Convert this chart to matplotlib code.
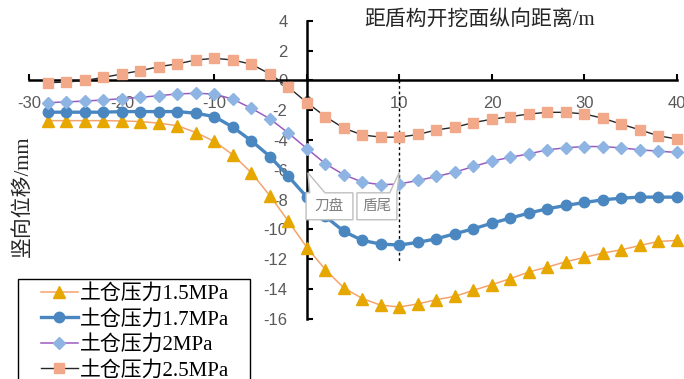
import matplotlib
matplotlib.use('Agg')
import matplotlib.pyplot as plt
from matplotlib.patches import Polygon, Rectangle

plt.rcParams['axes.unicode_minus'] = False

# distance from the shield face (m)
distance = [-28, -26, -24, -22, -20, -18, -16, -14, -12, -10, -8, -6, -4, -2, 0,
            2, 4, 6, 8, 10, 12, 14, 16, 18, 20, 22, 24, 26, 28, 30, 32, 34, 36, 38, 40]

# vertical displacement (mm) for each chamber pressure
disp_15 = [-2.70, -2.70, -2.70, -2.70, -2.72, -2.76, -2.87, -3.04, -3.50, -4.10, -5.00, -6.21,
           -7.75, -9.47, -11.23, -12.72, -13.95, -14.66, -15.11, -15.22, -15.02, -14.73, -14.51,
           -14.10, -13.72, -13.32, -12.87, -12.54, -12.18, -11.89, -11.60, -11.38, -11.09, -10.82, -10.75]
disp_17 = [-2.13, -2.13, -2.13, -2.13, -2.09, -2.09, -2.09, -2.09, -2.20, -2.43, -3.14, -4.06,
           -5.11, -6.45, -7.85, -9.14, -10.15, -10.75, -11.00, -11.06, -10.88, -10.64, -10.30,
           -9.97, -9.59, -9.25, -8.91, -8.62, -8.40, -8.20, -8.02, -7.91, -7.84, -7.84, -7.84]
disp_20 = [-1.49, -1.44, -1.38, -1.31, -1.22, -1.13, -1.02, -0.90, -0.86, -0.91, -1.26, -1.87,
           -2.58, -3.54, -4.58, -5.60, -6.34, -6.83, -7.01, -6.95, -6.72, -6.45, -6.16,
           -5.78, -5.42, -5.16, -4.93, -4.66, -4.52, -4.44, -4.44, -4.53, -4.66, -4.75, -4.84]
disp_25 = [-0.15, -0.10, 0.00, 0.21, 0.44, 0.66, 0.93, 1.12, 1.38, 1.49, 1.38, 1.09,
           0.44, -0.45, -1.49, -2.43, -3.21, -3.66, -3.81, -3.81, -3.63, -3.32, -3.14,
           -2.83, -2.60, -2.43, -2.25, -2.14, -2.14, -2.25, -2.54, -2.94, -3.32, -3.72, -3.93]

labels = ['土仓压力1.5MPa', '土仓压力1.7MPa', '土仓压力2MPa', '土仓压力2.5MPa']
x_ticks = [-30, -20, -10, 0, 10, 20, 30, 40]
y_ticks = [4, 2, 0, -2, -4, -6, -8, -10, -12, -14, -16]
cutter_x, tail_x = 0, 10

MIXED = ['Liberation Serif', 'Noto Sans CJK SC']
CJK = ['Noto Sans CJK SC', 'DejaVu Sans']

fig = plt.figure(figsize=(6.84, 3.79), dpi=100)
ax = fig.add_axes([0.0431, 0.1596, 0.9466, 0.785])

styles = [
    dict(color='#F5A36C', lw=1.1, marker='^', ms=8, mfc='#E6A800', mec='#E6A800'),
    dict(color='#4A87C1', lw=2.4, marker='o', ms=7.5, mfc='#4A87C1', mec='#4A87C1'),
    dict(color='#9B5CC0', lw=1.1, marker='D', ms=6, mfc='#8DB4E2', mec='#8DB4E2'),
    dict(color='#262626', lw=1.0, marker='s', ms=7, mfc='#F2A98A', mec='#F2A98A'),
]
handles = []
for ys, lab, st in zip([disp_15, disp_17, disp_20, disp_25], labels, styles):
    h, = ax.plot(distance, ys, label=lab, clip_on=False, zorder=3, **st)
    handles.append(h)

# shield tail marker line
ax.plot([tail_x, tail_x], [0, -12.2], color='black', lw=1, ls=(0, (2, 2)), zorder=2)

ax.set_xlim(-30, 40)
ax.set_ylim(-16, 4)
ax.spines['left'].set_position(('data', 0))
ax.spines['bottom'].set_position(('data', 0))
ax.spines['right'].set_visible(False)
ax.spines['top'].set_visible(False)
for s in ['left', 'bottom']:
    ax.spines[s].set_linewidth(1.8)
    ax.spines[s].set_color('black')
ax.set_xticks(x_ticks)
ax.set_yticks(y_ticks)
ax.tick_params(axis='both', direction='in', length=4, width=1.5, color='black',
               labelcolor='#595959', labelsize=12)
ax.tick_params(axis='x', pad=11)
ax.tick_params(axis='y', pad=14)
for t in ax.get_xticklabels() + ax.get_yticklabels():
    t.set_family('Liberation Sans')

# callouts
def callout(text, box, wedge, apex):
    x0, x1, yt, yb = box
    w0, w1 = wedge
    pts = [(x0, yt), (w0, yt), apex, (w1, yt), (x1, yt), (x1, yb), (x0, yb)]
    ax.add_patch(Polygon(pts, closed=True, fc='white', ec='#BFBFBF', lw=1, zorder=4))
    ax.text((x0 + x1) / 2, (yt + yb) / 2, text, ha='center', va='center',
            fontsize=10.5, color='#7F7F7F', family=CJK, zorder=5)

callout('刀盘', (-0.1, 4.97, -7.55, -9.36), (0.3, 1.95), (cutter_x + 0.1, -6.2))
callout('盾尾', (5.4, 9.72, -7.55, -9.36), (8.95, 9.72), (tail_x, -6.15))

fig.text(480 / 684, 1 - 20 / 379, '距盾构开挖面纵向距离/m', ha='center', va='center',
         fontsize=15, color='#262626', family=MIXED)
fig.text(23 / 684, 1 - 196 / 379, '竖向位移/mm', ha='center', va='center', rotation=90,
         fontsize=15, color='#262626', family=MIXED)

# legend frame (runs off the bottom edge like the original)
fig.patches.append(Rectangle((18 / 684, -0.1), (250 - 18) / 684, 0.1 + (379 - 279) / 379,
                             transform=fig.transFigure, fill=False, ec='black', lw=1))
fig.legend(handles=handles, loc='upper left', bbox_to_anchor=(37 / 684, 1 - 280 / 379),
           frameon=False, prop={'family': MIXED, 'size': 15}, handlelength=1.75,
           handletextpad=0.12, labelspacing=0.27, borderpad=0.2, borderaxespad=0)

fig.savefig('out.png', dpi=100)
